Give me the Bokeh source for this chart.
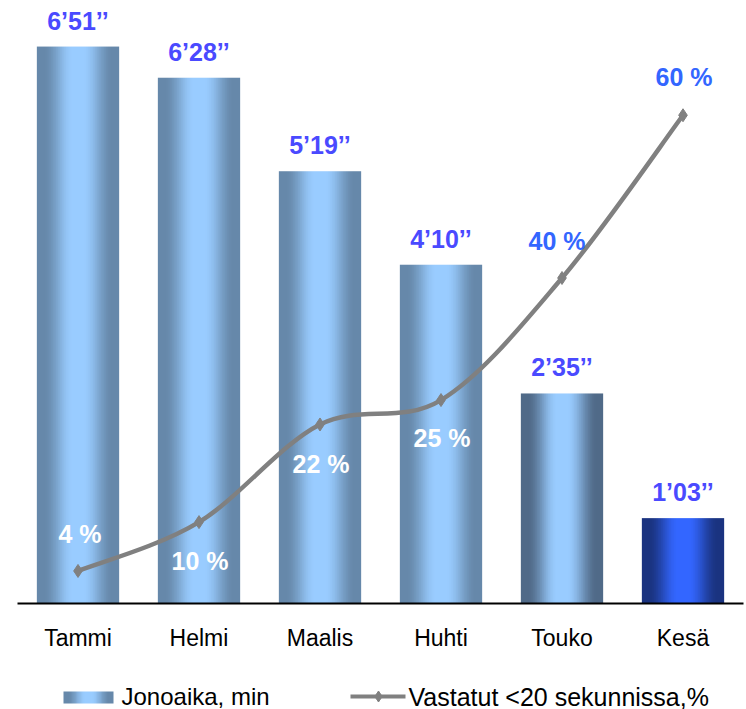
import numpy as np
from bokeh.plotting import figure
from bokeh.models import Range1d, FixedTicker, ColumnDataSource
from bokeh.layouts import column
from bokeh.embed import file_html
from bokeh.resources import INLINE
from bokeh.core.properties import value

# ---------------- data ----------------
months = ["Tammi", "Helmi", "Maalis", "Huhti", "Touko", "Kesä"]
queue_seconds = [411, 388, 319, 250, 155, 63]          # 6'51'' ... 1'03''
queue_labels = ["6’51’’", "6’28’’", "5’19’’", "4’10’’", "2’35’’", "1’03’’"]
answered_pct = [4, 10, 22, 25, 40, 60]
pct_labels = ["4 %", "10 %", "22 %", "25 %", "40 %", "60 %"]
series_names = ["Jonoaika, min", "Vastatut <20 sekunnissa,%"]

# ---------------- styles ----------------
FONT = value("Liberation Sans")
bar_light = [(153, 204, 255)] * 5 + [(51, 102, 255)]
bar_dark = [(102, 136, 170)] * 4 + [(80, 106, 136), (26, 51, 128)]
pct_dy = [-37, 39, 40, 38, -37, -38]        # label offsets (px, + is down)
pct_dx = [2, 1, 1, 1, -5, 1]
pct_colors = ["white", "white", "white", "white", "#3366FF", "#3366FF"]
value_color = "#4A4AFF"
line_color = "#808080"
BAR_W = 0.68
NPIX = 120
LEFT, RIGHT = 17, 3


def grad_row(light, dark, n=NPIX):
    row = np.zeros((1, n), dtype=np.uint32)
    view = row.view(dtype=np.uint8).reshape((1, n, 4))
    for k in range(n):
        t = (k + 0.5) / n
        d = abs(t - 0.5)
        if d < 0.06:
            l = 1.0
        else:
            u = min(1.0, (d - 0.06) / 0.36)
            l = 1.0 - u * u * (3 - 2 * u)
        for c in range(3):
            view[0, k, c] = int(round(dark[c] + (light[c] - dark[c]) * l))
        view[0, k, 3] = 255
    return row


# ---------------- main figure ----------------
p = figure(width=746, height=653, x_range=Range1d(-0.5, 5.5), y_range=Range1d(0, 445),
           output_backend="svg", toolbar_location=None, y_axis_location=None,
           min_border_left=LEFT, min_border_right=RIGHT, min_border_top=0,
           min_border_bottom=50)
p.extra_y_ranges = {"pct": Range1d(0, 74.1)}
p.xgrid.visible = False
p.ygrid.visible = False
p.outline_line_color = None
p.background_fill_color = "white"
p.border_fill_color = "white"

idx = list(range(len(months)))

# gradient bars drawn as stretched one-row images
p.image_rgba(image=[grad_row(bar_light[i], bar_dark[i]) for i in idx],
             x=[i - BAR_W / 2 for i in idx], y=[0] * len(idx),
             dw=[BAR_W] * len(idx), dh=queue_seconds)

# value labels above bars
p.text(x=idx, y=queue_seconds, text=queue_labels, text_align="center", text_baseline="middle",
       y_offset=-26, text_font=FONT, text_font_style="bold", text_font_size="25px",
       text_color=value_color)

# smoothed line (cubic Bezier segments through the data points)
n = len(answered_pct)
x0, y0, x1, y1, cx0, cy0, cx1, cy1 = [], [], [], [], [], [], [], []
for i in range(n - 1):
    ip, inn = max(i - 1, 0), min(i + 2, n - 1)
    x0.append(idx[i]); y0.append(answered_pct[i])
    x1.append(idx[i + 1]); y1.append(answered_pct[i + 1])
    cx0.append(idx[i] + (idx[i + 1] - idx[ip]) / 6)
    cy0.append(answered_pct[i] + (answered_pct[i + 1] - answered_pct[ip]) / 6)
    cx1.append(idx[i + 1] - (idx[inn] - idx[i]) / 6)
    cy1.append(answered_pct[i + 1] - (answered_pct[inn] - answered_pct[i]) / 6)
p.bezier(x0=x0, y0=y0, x1=x1, y1=y1, cx0=cx0, cy0=cy0, cx1=cx1, cy1=cy1,
         line_color=line_color, line_width=4.5, line_cap="round", y_range_name="pct")
p.scatter(x=idx, y=answered_pct, marker="diamond", size=13, color=line_color,
          y_range_name="pct")

pct_src = ColumnDataSource(dict(x=idx, y=answered_pct, t=pct_labels, dy=pct_dy, dx=pct_dx,
                                c=pct_colors))
p.text(x="x", y="y", text="t", x_offset="dx", y_offset="dy", text_color="c",
       text_align="center", text_baseline="middle", text_font=FONT,
       text_font_style="bold", text_font_size="25px", y_range_name="pct", source=pct_src)

# x axis
p.xaxis.ticker = FixedTicker(ticks=idx)
p.xaxis.major_label_overrides = {i: m for i, m in enumerate(months)}
p.xaxis.major_label_text_font = "Liberation Sans"
p.xaxis.major_label_text_font_size = "23px"
p.xaxis.major_label_text_color = "black"
p.xaxis.major_label_standoff = 21
p.xaxis.major_tick_line_color = None
p.xaxis.minor_tick_line_color = None
p.xaxis.major_tick_in = 0
p.xaxis.major_tick_out = 0
p.xaxis.axis_line_color = "black"
p.xaxis.axis_line_width = 2

# ---------------- legend strip (data units = page pixels) ----------------
lg = figure(width=746, height=56, x_range=Range1d(LEFT, 746 - RIGHT), y_range=Range1d(0, 56),
            output_backend="svg", toolbar_location=None, x_axis_location=None,
            y_axis_location=None, min_border_left=LEFT, min_border_right=RIGHT,
            min_border_top=0, min_border_bottom=0)
lg.outline_line_color = None
lg.grid.visible = False
lg.image_rgba(image=[grad_row(bar_light[0], bar_dark[0], 60)], x=[63], y=[6], dw=[50], dh=[12])
lg.text(x=[121], y=[13], text=[series_names[0]], text_align="left", text_baseline="middle",
        text_font=FONT, text_font_size="24px", text_color="black")
lg.line(x=[350, 405], y=[13, 13], line_color=line_color, line_width=4)
lg.scatter(x=[378], y=[13], marker="diamond", size=11, color=line_color)
lg.text(x=[408], y=[13], text=[series_names[1]], text_align="left", text_baseline="middle",
        text_font=FONT, text_font_size="25px", text_color="black")

layout = column(p, lg, spacing=0)
open("out.html", "w").write(file_html(layout, INLINE))
